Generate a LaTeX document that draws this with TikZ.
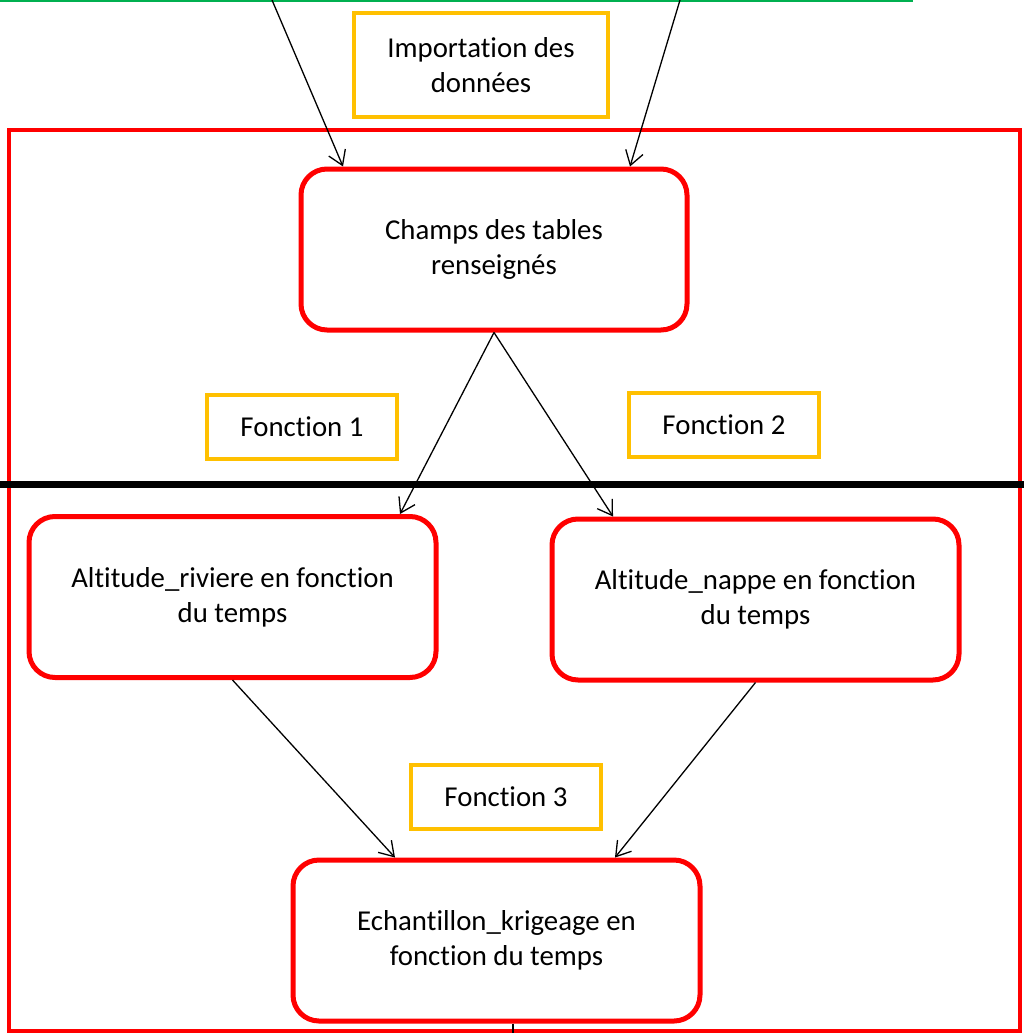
\documentclass[tikz,border=0pt]{standalone}
\usepackage{fontspec}
\setmainfont{Carlito}[Ligatures={NoCommon,NoRequired,NoContextual},RawFeature={-liga;-clig;-dlig;-rlig;-calt}]
\usetikzlibrary{arrows.meta}
\definecolor{fred}{RGB}{255,0,0}
\definecolor{fyellow}{RGB}{255,192,0}
\definecolor{fgreen}{RGB}{0,176,80}
\begin{document}
\begin{tikzpicture}[x=0.5pt,y=-0.5pt,
  every node/.style={font=\fontsize{14.4pt}{17.5pt}\selectfont, align=center, inner sep=0pt},
  procbox/.style={draw=fred, line width=2.5pt, rounded corners=13pt, minimum width=203.5pt, minimum height=80.5pt},
  labelbox/.style={draw=fyellow, line width=2pt, minimum width=95pt, minimum height=32pt},
  arr/.style={draw=black, line width=0.65pt, -{Straight Barb[length=7pt,width=9pt,line width=0.65pt]}}]
\useasboundingbox (0,0) rectangle (1024,1033);
% frames
\draw[fgreen, line width=1.5pt] (0,0.5) -- (913,0.5);
\draw[fred, line width=2pt] (9,130) rectangle (1020,1031);
\draw[black, line width=3.5pt] (0,484) -- (1024,484);
% nodes
\node[labelbox, minimum width=127pt, minimum height=52pt] (imp) at (481,65) {Importation des\\données};
\node[procbox, minimum width=193pt] (champs) at (494,249.5) {Champs des tables\\renseignés};
\node[labelbox] (f1) at (302,426.5) {Fonction 1};
\node[labelbox] (f2) at (724,424.5) {Fonction 2};
\node[procbox] (riv) at (232.5,597) {Altitude\_riviere en fonction\\du temps};
\node[procbox] (nappe) at (755.5,599.5) {Altitude\_nappe en fonction\\du temps};
\node[labelbox] (f3) at (506,797) {Fonction 3};
\node[procbox] (ech) at (496.5,940.5) {Echantillon\_krigeage en\\fonction du temps};
% free ends
\coordinate (s1) at (272,0);
\coordinate (s2) at (680,0);
\coordinate (bot) at (513,1033);
% connectors
\draw[arr] (s1) -- ([xshift=-75.5pt]champs.north);
\draw[arr] (s2) -- ([xshift=68pt]champs.north);
\draw[arr] (champs.south) -- ([xshift=83.75pt]riv.north);
\draw[arr] (champs.south) -- ([xshift=-71.25pt]nappe.north);
\draw[arr] (riv.south) -- ([xshift=-50.75pt]ech.north);
\draw[arr] (nappe.south) -- ([xshift=59.25pt]ech.north);
\draw[black, line width=0.8pt] ([xshift=8.25pt]ech.south) -- (bot);
\end{tikzpicture}
\end{document}
